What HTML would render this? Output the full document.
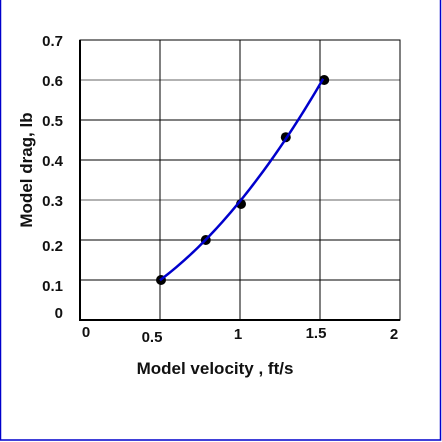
<!DOCTYPE html>
<html><head><meta charset="utf-8"><style>
body{margin:0;background:#fff}
svg{display:block;font-family:"Liberation Sans",Arial,sans-serif;font-weight:bold}
</style></head><body>
<svg width="442" height="442" viewBox="0 0 442 442">
<rect x="0.5" y="-2" width="440" height="442" fill="#fff" stroke="#0000cc" stroke-width="1.5"/>
<g id="grid"></g>
<g id="axes"></g>
<g id="series"></g>
<text x="215" y="374" style="font-size:17px" text-anchor="middle" fill="#111">Model velocity , ft/s</text>
<text transform="translate(32,170) rotate(-90)" style="font-size:17px" text-anchor="middle" fill="#111">Model drag, lb</text>
</svg>
<script>
const xTicks=[0,0.5,1,1.5,2];
const xTickLabels=["0","0.5","1","1.5","2"];
const yTicks=[0,0.1,0.2,0.3,0.4,0.5,0.6,0.7];
const yTickLabels=["0","0.1","0.2","0.3","0.4","0.5","0.6","0.7"];
const velocity=[0.5,0.78,1.0,1.28,1.52];
const drag=[0.1,0.2,0.29,0.457,0.6];
const NS="http://www.w3.org/2000/svg";
const X0=80,X1=400,Y0=320,Y1=40;
function sx(v){return X0+(v-0)/(2-0)*(X1-X0);}
function sy(v){return Y0-(v-0)/(0.7-0)*(Y0-Y1);}
function mk(tag,attrs,parent){const e=document.createElementNS(NS,tag);for(const k in attrs)e.setAttribute(k,attrs[k]);parent.appendChild(e);return e;}
const grid=document.getElementById('grid'),axes=document.getElementById('axes'),series=document.getElementById('series');
yTicks.forEach((v,i)=>{
  if(v>0&&v<0.7){
    const gray=(Math.abs(v-0.3)<1e-6||Math.abs(v-0.6)<1e-6);
    const l=mk('line',{x1:X0,x2:X1,y1:sy(v),y2:sy(v),stroke:gray?'#666':'#000','stroke-width':1},grid);
    
    
  }
  const t=mk('text',{x:63,y:sy(v)+6+(v<0.25&&v>0?5:0)-(v===0?8:0),style:'font-size:15px','text-anchor':'end',fill:'#111'},axes);
  t.textContent=yTickLabels[i];
  
  
});
xTicks.forEach((v,i)=>{
  if(v>0&&v<2){
    const l=mk('line',{x1:sx(v),x2:sx(v),y1:Y1,y2:Y0,stroke:'#000','stroke-width':1},grid);
    
    
  }
  const off=[6,-8,-2,-4,-6][i],dy=[17,22,19,18,19][i];
  const t=mk('text',{x:sx(v)+off,y:Y0+dy,style:'font-size:15px','text-anchor':'middle',fill:'#111'},axes);
  t.textContent=xTickLabels[i];
  
  
});
const fr=mk('rect',{x:X0,y:Y1,width:X1-X0,height:Y0-Y1,fill:'none',stroke:'#000','stroke-width':1},axes);


const la=mk('line',{x1:X0,x2:X0,y1:Y1,y2:Y0+1,stroke:'#000','stroke-width':2},axes);


const lb=mk('line',{x1:X0,x2:X1,y1:Y0,y2:Y0,stroke:'#000','stroke-width':2},axes);


// least-squares quadratic fit through the data
function fitQuad(xs,ys){
  let S=[0,0,0,0,0],T=[0,0,0];
  xs.forEach((x,i)=>{for(let k=0;k<5;k++)S[k]+=Math.pow(x,k);for(let k=0;k<3;k++)T[k]+=ys[i]*Math.pow(x,k);});
  const A=[[S[0],S[1],S[2],T[0]],[S[1],S[2],S[3],T[1]],[S[2],S[3],S[4],T[2]]];
  for(let c=0;c<3;c++){for(let r=c+1;r<3;r++){const f=A[r][c]/A[c][c];for(let k=c;k<4;k++)A[r][k]-=f*A[c][k];}}
  const s=[0,0,0];
  for(let r=2;r>=0;r--){let v=A[r][3];for(let k=r+1;k<3;k++)v-=A[r][k]*s[k];s[r]=v/A[r][r];}
  return s;
}
const cf=fitQuad(velocity,drag);
const vmin=Math.min(...velocity),vmax=Math.max(...velocity);
let d='';
for(let j=0;j<=60;j++){const v=vmin+(vmax-vmin)*j/60;const y=cf[0]+cf[1]*v+cf[2]*v*v;d+=(j?' L':'M')+sx(v).toFixed(2)+','+sy(y).toFixed(2);}
velocity.forEach((v,i)=>{
  const c=mk('circle',{cx:sx(v)+1,cy:sy(drag[i]),r:5,fill:'#000'},series);
  
  
});
const path=mk('path',{d:d,fill:'none',stroke:'#0000cc','stroke-width':2.5},series);


</script>
</body></html>
